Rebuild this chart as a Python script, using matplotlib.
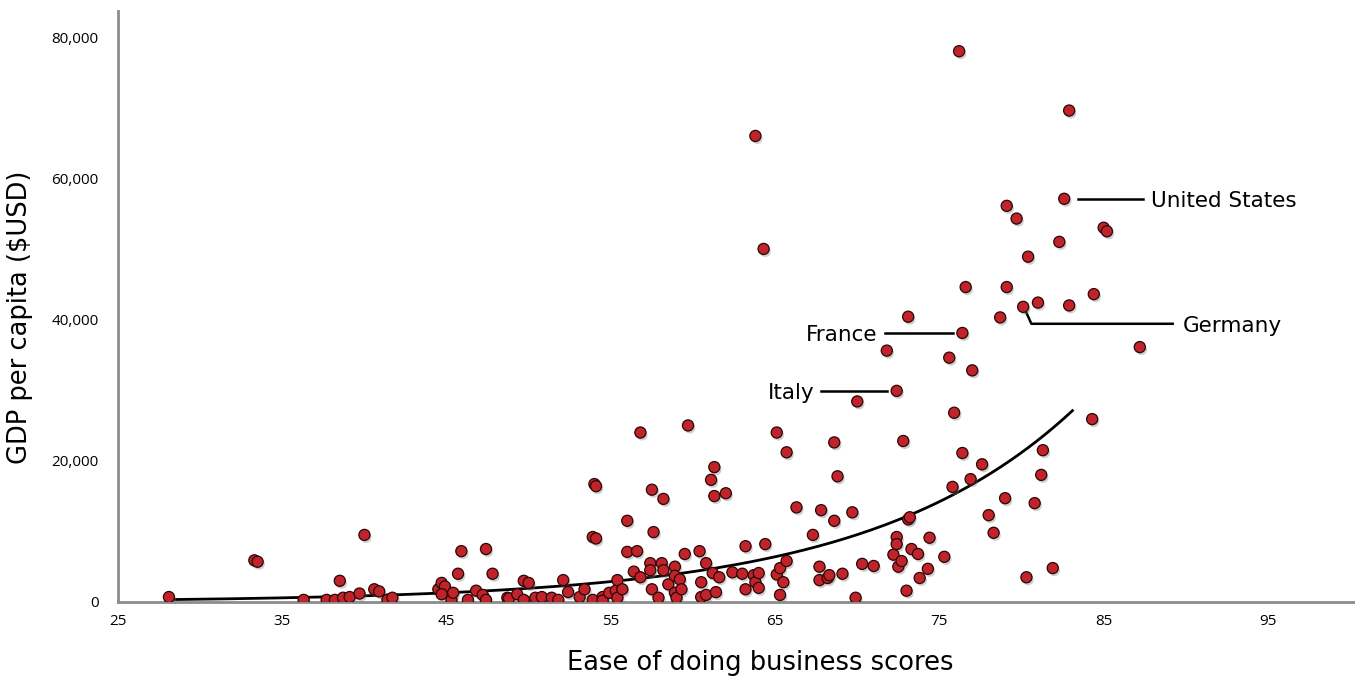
import numpy as np
import matplotlib
matplotlib.use("Agg")
import matplotlib.pyplot as plt
import matplotlib.patheffects as pe
from matplotlib.ticker import FuncFormatter

# ease of doing business score vs GDP per capita (USD), one point per country
scores = [
    28.1, 33.3, 33.5, 36.3, 37.7, 38.2, 38.5, 38.7, 39.1, 39.7,
    40.0, 40.6, 40.9, 41.4, 41.7, 44.5, 44.7, 44.9, 44.7, 45.3,
    45.4, 45.7, 45.9, 46.3, 46.8, 47.2, 47.4, 47.4, 47.8, 48.7,
    48.8, 49.3, 49.7, 50.0, 49.7, 50.4, 50.8, 51.4, 51.8, 52.1,
    52.4, 53.1, 53.4, 53.9, 53.9, 54.1, 54.0, 54.1, 54.5, 54.5,
    54.9, 55.3, 55.4, 55.4, 55.7, 56.0, 56.0, 56.6, 56.4, 56.8,
    56.8, 57.4, 57.4, 57.5, 57.5, 57.6, 57.9, 58.1, 58.2, 58.2,
    58.5, 58.9, 58.9, 58.9, 59.0, 59.2, 59.3, 59.5, 59.7, 60.4,
    60.5, 60.5, 60.8, 60.8, 61.1, 61.3, 61.3, 61.2, 61.4, 61.6,
    62.0, 62.4, 63.0, 63.2, 63.2, 63.7, 63.8, 63.8, 64.0, 64.0,
    64.3, 64.4, 65.1, 65.1, 65.3, 65.3, 65.5, 65.7, 65.7, 66.3,
    67.3, 67.7, 67.7, 67.8, 68.2, 68.3, 68.6, 68.6, 68.8, 69.1,
    69.7, 69.9, 70.0, 70.3, 71.0, 71.8, 72.2, 72.4, 72.4, 72.5,
    72.4, 72.7, 72.8, 73.0, 73.1, 73.2, 73.1, 73.3, 73.7, 73.8,
    74.3, 74.4, 75.3, 75.6, 75.8, 75.9, 76.2, 76.4, 76.4, 76.6,
    76.9, 77.0, 77.6, 78.0, 78.3, 78.7, 79.0, 79.1, 79.1, 79.7,
    80.1, 80.3, 80.4, 80.8, 81.0, 81.2, 81.3, 81.9, 82.3, 82.6,
    82.9, 82.9, 84.3, 84.4, 85.0, 85.2, 87.2,
]
gdp = [
    700, 5900, 5700, 300, 300, 300, 3000, 600, 700, 1200,
    9500, 1800, 1500, 300, 600, 1800, 2700, 2200, 1100, 300,
    1300, 4000, 7200, 300, 1600, 1000, 300, 7500, 4000, 600,
    500, 1100, 3000, 2700, 300, 600, 700, 600, 300, 3100,
    1400, 700, 1800, 300, 9200, 9000, 16700, 16400, 700, 200,
    1300, 1600, 3100, 600, 1800, 11500, 7100, 7200, 4300, 3500,
    24000, 5500, 4500, 15900, 1800, 9900, 600, 5500, 4500, 14600,
    2500, 5000, 3700, 1300, 600, 3200, 1800, 6800, 25000, 7200,
    2800, 700, 1000, 5500, 17300, 19100, 15000, 4100, 1400, 3500,
    15400, 4200, 4000, 7900, 1800, 3800, 2800, 66000, 4100, 2000,
    50000, 8200, 24000, 3900, 4800, 1000, 2800, 5800, 21200, 13400,
    9500, 5000, 3100, 13000, 3400, 3800, 11500, 22600, 17800, 4000,
    12700, 600, 28400, 5400, 5100, 35600, 6700, 9200, 8200, 5000,
    29900, 5800, 22800, 1600, 11700, 12000, 40400, 7500, 6800, 3400,
    4700, 9100, 6400, 34600, 16300, 26800, 78000, 21100, 38100, 44600,
    17400, 32800, 19500, 12300, 9800, 40300, 14700, 56100, 44600, 54300,
    41800, 3500, 48900, 14000, 42400, 18000, 21500, 4800, 51000, 57100,
    69600, 42000, 25900, 43600, 53000, 52500, 36100,
]

# labelled countries
label_names = ["United States", "Germany", "France", "Italy"]
label_scores = [82.6, 80.1, 76.4, 72.4]
label_gdp = [57100, 41800, 38100, 29900]

trend_end = 83.1

x = np.array(scores)
y = np.array(gdp)

# exponential trendline, fitted on log(y) like Excel does
b, log_a = np.polyfit(x, np.log(y), 1)
tx = np.linspace(x.min(), trend_end, 200)
ty = np.exp(log_a) * np.exp(b * tx)

fig = plt.figure(figsize=(13.55, 6.77), dpi=100)
ax = fig.add_axes([0.0871, 0.1108, 0.9129, 0.873])

ax.plot(tx, ty, color="black", lw=2, zorder=2)
ax.scatter(x, y, s=64, color="#c1232b", edgecolor="#2a0606", linewidth=0.9, zorder=3,
           path_effects=[pe.SimplePatchShadow(offset=(1.2, -1.8), shadow_rgbFace="#777777", alpha=0.35),
                         pe.Normal()])

ax.set_xlim(25, 100.3)
ax.set_ylim(0, 83700)
ax.set_xticks(range(25, 96, 10))
ax.set_yticks(range(0, 80001, 20000))
ax.yaxis.set_major_formatter(FuncFormatter(lambda v, p: f"{int(v):,}"))
ax.tick_params(length=0, labelsize=11)
ax.tick_params(axis="y", pad=14)
ax.tick_params(axis="x", pad=9)
for lab in ax.get_xticklabels() + ax.get_yticklabels():
    lab.set_fontfamily("Open Sans")

for side in ["top", "right"]:
    ax.spines[side].set_visible(False)
for side in ["left", "bottom"]:
    ax.spines[side].set_color("#8c8c8c")
    ax.spines[side].set_linewidth(2)

ax.set_xlabel("Ease of doing business scores", fontsize=18.5, fontfamily="DejaVu Sans", va="center")
ax.set_ylabel("GDP per capita ($USD)", fontsize=18.5, fontfamily="DejaVu Sans", va="center")
ax.xaxis.set_label_coords(0.519, -0.104)
ax.yaxis.set_label_coords(-0.079, 0.482)

# callout lines and names
us_x, de_x, fr_x, it_x = label_scores
us_y, de_y, fr_y, it_y = label_gdp
lk = dict(color="black", lw=1.8, zorder=2)
tk = dict(fontsize=15.5, fontfamily="DejaVu Sans", va="center_baseline")

ax.plot([us_x + 0.85, us_x + 4.8], [us_y, us_y], **lk)
ax.text(us_x + 5.3, us_y, label_names[0], ha="left", **tk)

ax.plot([de_x + 0.2, de_x + 0.5, de_x + 9.1], [de_y - 850, de_y - 2400, de_y - 2400], **lk)
ax.text(de_x + 9.7, de_y - 2400, label_names[1], ha="left", **tk)

ax.plot([fr_x - 4.7, fr_x - 0.6], [fr_y, fr_y], **lk)
ax.text(fr_x - 5.2, fr_y, label_names[2], ha="right", **tk)

ax.plot([it_x - 4.6, it_x - 0.6], [it_y, it_y], **lk)
ax.text(it_x - 5.0, it_y, label_names[3], ha="right", **tk)

fig.savefig("out.png", dpi=100)
